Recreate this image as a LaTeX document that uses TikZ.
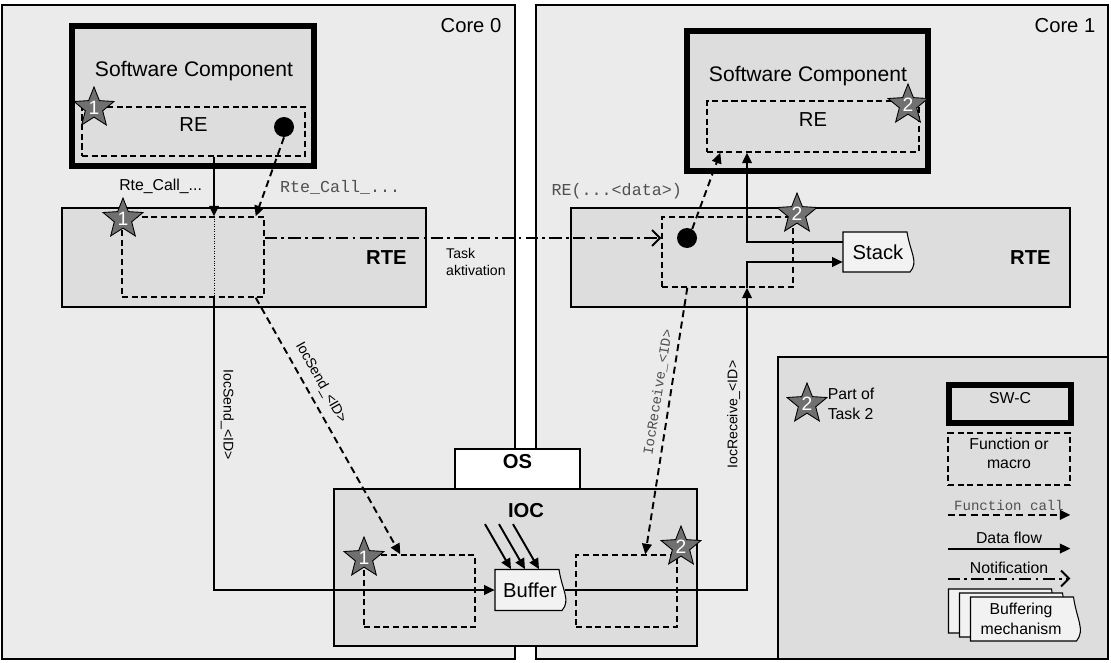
\documentclass[tikz,border=0pt]{standalone}
\usepackage{fontspec}
\setmainfont{Liberation Sans}
\setmonofont{Liberation Mono}
\definecolor{coregray}{RGB}{235,235,235}
\definecolor{boxgray}{RGB}{221,221,221}
\definecolor{bufgray}{RGB}{242,242,242}
\definecolor{stargray}{RGB}{112,112,112}
\definecolor{codegray}{RGB}{80,80,80}
\usepackage{tikz}
\usetikzlibrary{arrows.meta,positioning,fit,calc,shapes.geometric}
\newdimen\pxu \pxu=0.02cm
% buffer outline with a wavy right side: name, x, y, width, height, options, text
\newcommand{\bufbox}[7]{%
  \draw[bufline] (#2-#4/2,#3-#5/2) -- (#2+#4/2-6,#3-#5/2)
    .. controls (#2+#4/2-3,#3) and (#2+#4/2+6,#3+#5/4) .. (#2+#4/2-3,#3+#5/2)
    -- (#2-#4/2,#3+#5/2) -- cycle;
  \node[buftext, minimum width=#4\pxu, minimum height=#5\pxu, #6] (#1) at (#2,#3) {#7};}

\begin{document}
\begin{tikzpicture}[x=0.02cm, y=-0.02cm,
      corebox/.style={draw, line width=0.8pt, fill=coregray, inner sep=0pt},
      layerbox/.style={draw, line width=0.9pt, fill=boxgray, inner sep=0pt},
      swbox/.style={draw, line width=3.6pt, fill=boxgray, inner sep=0pt},
      osbox/.style={draw, line width=0.9pt, fill=white, inner sep=0pt,
                    font=\bfseries\fontsize{11.5}{13}\selectfont},
      fnbox/.style={draw, line width=0.8pt, dash pattern=on 3.5pt off 2pt,
                    inner sep=0pt, font=\fontsize{11.5}{13}\selectfont},
      taskstar/.style={star, star points=5, star point ratio=2.3, draw,
                    line width=0.5pt, fill=stargray, minimum size=42\pxu,
                    inner sep=0pt, label={[starnum]center:#1}},
      starnum/.style={text=white, inner sep=0pt, font=\fontsize{11}{12}\selectfont},
      dot/.style={circle, fill=black, minimum size=20\pxu, inner sep=0pt},
      bufline/.style={draw, line width=0.6pt, fill=bufgray},
      buftext/.style={inner sep=0pt, align=center, font=\fontsize{11.5}{13}\selectfont},
      title/.style={font=\fontsize{12}{14}\selectfont},
      corelbl/.style={font=\fontsize{11.5}{13}\selectfont},
      boldlbl/.style={font=\bfseries\fontsize{11.5}{13}\selectfont},
      lbl/.style={font=\fontsize{9}{11}\selectfont},
      smalllbl/.style={font=\fontsize{8}{9.6}\selectfont},
      codelbl/.style={font=\ttfamily\fontsize{9.5}{11}\selectfont, text=codegray},
      smallcode/.style={font=\ttfamily\fontsize{8}{9.6}\selectfont, text=codegray},
      flow/.style={line width=1.1pt, -{Triangle[length=6pt,width=5.5pt]}},
      call/.style={line width=1.1pt, dash pattern=on 4pt off 2.5pt,
                   -{Triangle[length=6pt,width=5.5pt]}},
      notify/.style={line width=1.1pt, dash pattern=on 7pt off 2.5pt on 1.5pt off 2.5pt,
                   -{Straight Barb[length=4.5pt,width=9pt]}}
    ]
    \useasboundingbox (0,0) rectangle (1111,662);
    % CORES
    \node[corebox, fit={(2,5) (515,659)}] (core0) {};
    \node[corebox, fit={(536,5) (1108,659)}] (core1) {};
    \node[corelbl] (core0lbl) at (471,26) {Core 0};
    \node[corelbl] (core1lbl) at (1065,26) {Core 1};
    % CORE 0: software component and RTE
    \node[swbox, fit={(72,26) (314,166)}] (swc1) {};
    \node[title] (swc1lbl) at (194,71) {Software Component};
    \node[fnbox, fit={(82,107) (305,156)}] (re1) {RE};
    \node[dot] (dot1) at (284,127) {};
    \node[layerbox, fit={(62,208) (426,307)}] (rte1) {};
    \node[boldlbl, left=0.28cm of rte1.east] (rte1lbl) {RTE};
    \node[fnbox, fit={(122,217) (264,297)}] (fn1) {};
    % CORE 1: software component and RTE
    \node[swbox, fit={(687,31) (928,171)}] (swc2) {};
    \node[title] (swc2lbl) at (808,76) {Software Component};
    \node[fnbox, fit={(707,101) (919,152)}] (re2) {RE};
    \node[layerbox, fit={(571,208) (1070,307)}] (rte2) {};
    \node[boldlbl, left=0.28cm of rte2.east] (rte2lbl) {RTE};
    \node[fnbox, fit={(662,217) (793,287)}] (fn2) {};
    \node[dot] (dot2) at (687,238) {};
    \bufbox{stack}{878}{252}{70}{40}{}{Stack}
    % OS and IOC
    \node[osbox, fit={(455,449) (580,489)}] (os) {OS};
    \node[layerbox, fit={(334,489) (697,646)}] (ioc) {};
    \node[boldlbl] (ioclbl) at (526,511) {IOC};
    \node[fnbox, fit={(364,555) (475,627)}] (ioc1) {};
    \node[fnbox, fit={(576,555) (677,627)}] (ioc2) {};
    \bufbox{buffer}{530}{590}{70}{41}{}{Buffer}
    % LEGEND
    \node[layerbox, fit={(778,357) (1108,659)}] (legend) {};
    \node[taskstar=2] (st7) at (807,404) {};
    \node[lbl, align=left, right=1pt of st7] (st7lbl) {Part of\\Task 2};
    \node[swbox, lbl, fit={(949,385) (1071,423)}] (lgswc) {SW-C};
    \node[fnbox, lbl, align=center, fit={(948,433) (1070,485)}] (lgfn) {Function or\\macro};
    \node[smallcode, minimum width=122\pxu, inner sep=2.5pt] (lgcall) at (1009,505) {Function call};
    \draw[call] (lgcall.south west) -- (lgcall.south east);
    \node[lbl, minimum width=122\pxu, inner sep=2.5pt] (lgflow) at (1009,538) {Data flow};
    \draw[flow] (lgflow.south west) -- (lgflow.south east);
    \node[lbl, minimum width=122\pxu, inner sep=2.5pt] (lgnote) at (1009,568) {Notification};
    \draw[notify] (lgnote.south west) -- (lgnote.south east);
    \bufbox{lgbuf1}{1003}{611}{109}{44}{}{}
    \bufbox{lgbuf2}{1014}{615}{109}{44}{}{}
    \bufbox{lgbuf3}{1025}{619}{109}{44}{lbl, xshift=-4\pxu}{Buffering\\mechanism}
    % task stars
    \node[taskstar=1] (st1) at (94,108) {};
    \node[taskstar=1] (st2) at (123,219) {};
    \node[taskstar=2] (st3) at (908,105) {};
    \node[taskstar=2] (st4) at (797,214) {};
    \node[taskstar=1] (st5) at (364,558) {};
    \node[taskstar=2] (st6) at (681,547) {};
    % data flow
    \coordinate (colL) at (214,0);
    \coordinate (colR) at (747,0);
    \draw[flow] (re1.south -| colL) -- node[lbl, left=3pt] {Rte\_Call\_...} (fn1.north -| colL);
    \draw[densely dotted, thin] (fn1.north -| colL) -- (fn1.south -| colL);
    \draw[flow] (fn1.south -| colL) |- node[smalllbl, pos=0.2, rotate=-90, anchor=south] {IocSend\_<ID>} (buffer.west);
    \draw[flow] (buffer.east) -| node[smalllbl, pos=0.79, rotate=90, anchor=south] {IocReceive\_<ID>} (fn2.south -| colR);
    \draw[flow] (fn2.south -| colR) |- ($(stack.west)+(0,10)$);
    \draw[flow] ($(stack.west)+(0,-10)$) -| (re2.south -| colR);
    \foreach \dx in {-19,-5,9}
      \draw[flow] ($(buffer.north)+(\dx-26,-45)$) -- ($(buffer.north)+(\dx,0)$);
    % function calls
    \draw[call] (dot1.south) -- node[codelbl, pos=0.63, right=4pt] {Rte\_Call\_...} ($(fn1.north east)+(-9,0)$);
    \draw[call] ($(fn1.south east)+(-9,0)$) -- node[smalllbl, pos=0.36, sloped, above=1pt] {IocSend\_<ID>} ($(ioc1.north west)+(37,0)$);
    \draw[call] (dot2.60) -- node[codelbl, pos=0.5, left=10pt] {RE(...<data>)} ($(re2.south west)+(14,0)$);
    \draw[call] ($(fn2.south west)+(26,0)$) -- node[smallcode, pos=0.4, sloped, above] {IocReceive\_<ID>} ($(ioc2.north west)+(70,0)$);
    % notification
    \draw[notify] (fn1.east |- dot2) -- (fn2.west |- dot2);
    \node[smalllbl, align=left, anchor=west] (tasklbl) at (440,262) {Task\\aktivation};
  \end{tikzpicture}
\end{document}
